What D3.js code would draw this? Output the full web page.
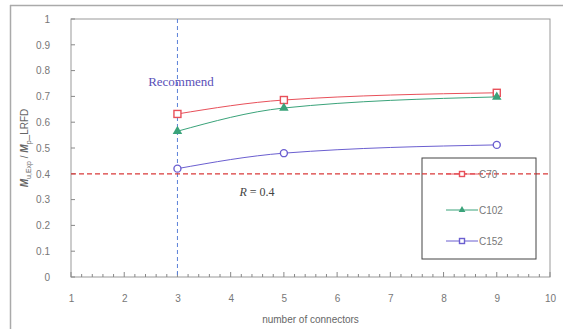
<!DOCTYPE html>
<html>
<head>
<meta charset="utf-8">
<script src="https://cdn.jsdelivr.net/npm/d3@7"></script>
<style>
  body { margin: 0; background: #fff; }
  svg { display: block; }
</style>
</head>
<body>
<svg id="chart" width="563" height="329"></svg>
<script>
// Connector counts tested and the resulting moment ratios
const connectors = [3, 5, 9];
const seriesNames = ["C70", "C102", "C152"];
const valuesC70 = [0.632, 0.686, 0.714];
const valuesC102 = [0.565, 0.655, 0.698];
const valuesC152 = [0.420, 0.480, 0.512];
const xTicks = [1, 2, 3, 4, 5, 6, 7, 8, 9, 10];
const yTicks = [0, 0.1, 0.2, 0.3, 0.4, 0.5, 0.6, 0.7, 0.8, 0.9, 1];
const ratioLimit = 0.4;
const recommendedCount = 3;

const seriesValues = [valuesC70, valuesC102, valuesC152];
const colors = ["#e8505a", "#3aa37a", "#6b5fd0"];
const symbols = ["squareHollow", "triangle", "circleHollow"];

const svg = d3.select("#chart");
const margin = { left: 71, top: 19, right: 13, bottom: 52 };
const W = 563, H = 329;
const sans = "Liberation Sans, Arial, sans-serif";
const serif = "Liberation Serif, Times New Roman, serif";

const x = d3.scaleLinear().domain([1, 10]).range([margin.left, W - margin.right]);
const y = d3.scaleLinear().domain([0, 1]).range([H - margin.bottom, margin.top]);

// outer frame (top and left edges)
svg.append("line").attr("x1", 10).attr("x2", W).attr("y1", 5.5).attr("y2", 5.5)
  .attr("stroke", "#aaa").attr("stroke-width", 1.5);
svg.append("line").attr("x1", 10.5).attr("x2", 10.5).attr("y1", 5).attr("y2", H)
  .attr("stroke", "#aaa").attr("stroke-width", 1.5);

// plot area border
svg.append("rect")
  .attr("x", x(1)).attr("y", y(1))
  .attr("width", x(10) - x(1)).attr("height", y(0) - y(1))
  .attr("fill", "none").attr("stroke", "#999").attr("stroke-width", 1);

// x axis: minor ticks every 0.2, major at each integer, pointing inward
const xAxis = d3.axisBottom(x).tickValues(xTicks).tickSize(0).tickPadding(18)
  .tickFormat(d3.format("d"));
const gx = svg.append("g").attr("transform", `translate(0,${y(0)})`).call(xAxis);
gx.select(".domain").remove();
gx.selectAll("text").attr("fill", "#777").style("font-family", sans).style("font-size", "10px");
const minorX = d3.range(1, 10.001, 0.2);
svg.append("g").selectAll("line").data(minorX).join("line")
  .attr("x1", d => x(d)).attr("x2", d => x(d))
  .attr("y1", y(0)).attr("y2", d => Math.abs(d - Math.round(d)) < 1e-6 ? y(0) - 5 : y(0) - 3)
  .attr("stroke", "#888").attr("stroke-width", 1);

// y axis: ticks pointing inward
const yAxis = d3.axisLeft(y).tickValues(yTicks).tickSize(0).tickPadding(21)
  .tickFormat(d => d === 0 || d === 1 ? d3.format("d")(d) : d3.format(".1f")(d));
const gy = svg.append("g").attr("transform", `translate(${x(1)},0)`).call(yAxis);
gy.select(".domain").remove();
gy.selectAll("text").attr("fill", "#777").style("font-family", sans).style("font-size", "10px");
svg.append("g").selectAll("line").data(yTicks).join("line")
  .attr("x1", x(1)).attr("x2", x(1) + 4)
  .attr("y1", d => y(d)).attr("y2", d => y(d))
  .attr("stroke", "#888").attr("stroke-width", 1);

// axis titles
svg.append("text")
  .attr("x", (x(1) + x(10)) / 2).attr("y", 323)
  .attr("text-anchor", "middle").attr("fill", "#666")
  .style("font-family", sans).style("font-size", "10px")
  .text("number of connectors");

const yTitle = svg.append("text")
  .attr("transform", `translate(28,${(y(0) + y(1)) / 2}) rotate(-90)`)
  .attr("text-anchor", "middle").attr("fill", "#666")
  .style("font-family", sans).style("font-size", "10px");
yTitle.append("tspan").attr("font-weight", "bold").attr("font-style", "italic").text("M");
yTitle.append("tspan").attr("dy", 3).style("font-size", "7px").text("u,Exp");
yTitle.append("tspan").attr("dy", -3).text(" / ");
yTitle.append("tspan").attr("font-weight", "bold").attr("font-style", "italic").text("M");
yTitle.append("tspan").attr("dy", 3).style("font-size", "7px").text("p");
yTitle.append("tspan").attr("dy", -3).text("_LRFD");

// recommended connector count (vertical dashed line)
svg.append("line")
  .attr("x1", x(recommendedCount)).attr("x2", x(recommendedCount))
  .attr("y1", y(1)).attr("y2", y(0))
  .attr("stroke", "#5b80d8").attr("stroke-width", 1).attr("stroke-dasharray", "4,3");
svg.append("text")
  .attr("x", 181).attr("y", 86).attr("text-anchor", "middle")
  .attr("fill", "#5a50b8")
  .style("font-family", serif).style("font-size", "13px")
  .text("Recommend");

// ratio limit (horizontal dashed line)
svg.append("line")
  .attr("x1", x(1)).attr("x2", x(10))
  .attr("y1", y(ratioLimit)).attr("y2", y(ratioLimit))
  .attr("stroke", "#d93a3a").attr("stroke-width", 1.3).attr("stroke-dasharray", "5,3");
const rLabel = svg.append("text")
  .attr("x", 257).attr("y", 196).attr("text-anchor", "middle")
  .attr("fill", "#444")
  .style("font-family", serif).style("font-size", "12px");
rLabel.append("tspan").attr("font-style", "italic").text("R");
rLabel.append("tspan").text(" = " + ratioLimit);

// series lines and markers
const line = d3.line().x(d => x(d[0])).y(d => y(d[1])).curve(d3.curveMonotoneX);

function drawMarker(g, type, color, cx, cy, s) {
  if (type === "squareHollow") {
    g.append("rect").attr("x", cx - s).attr("y", cy - s).attr("width", 2 * s).attr("height", 2 * s)
      .attr("fill", "#fff").attr("stroke", color).attr("stroke-width", 1.4);
  } else if (type === "triangle") {
    g.append("path")
      .attr("d", d3.symbol().type(d3.symbolTriangle).size(s * s * 3.2)())
      .attr("transform", `translate(${cx},${cy})`)
      .attr("fill", color);
  } else {
    g.append("circle").attr("cx", cx).attr("cy", cy).attr("r", s)
      .attr("fill", "#fff").attr("stroke", color).attr("stroke-width", 1.4);
  }
}

seriesValues.forEach((vals, i) => {
  const pts = connectors.map((c, j) => [c, vals[j]]);
  const g = svg.append("g");
  g.append("path").datum(pts).attr("d", line)
    .attr("fill", "none").attr("stroke", colors[i]).attr("stroke-width", 1);
  pts.forEach(p => drawMarker(g, symbols[i], colors[i], x(p[0]), y(p[1]), 3.5));
});

// legend
const lg = svg.append("g");
lg.append("rect").attr("x", 422).attr("y", 158).attr("width", 114).attr("height", 101)
  .attr("fill", "#fff").attr("stroke", "#444").attr("stroke-width", 1);
// the limit line passes through the legend box
lg.append("line").attr("x1", 422).attr("x2", 536).attr("y1", y(ratioLimit)).attr("y2", y(ratioLimit))
  .attr("stroke", "#d93a3a").attr("stroke-width", 1.3).attr("stroke-dasharray", "5,3");
const legendY = [174, 210, 241];
seriesNames.forEach((name, i) => {
  const ly = legendY[i];
  lg.append("line").attr("x1", 446).attr("x2", 478).attr("y1", ly).attr("y2", ly)
    .attr("stroke", colors[i]).attr("stroke-width", 1);
  drawMarker(lg, i === 2 ? "squareHollow" : symbols[i], colors[i], 462, ly, 2.5);
  lg.append("text").attr("x", 479).attr("y", ly + 3.5)
    .attr("fill", "#777")
    .style("font-family", sans).style("font-size", "10px")
    .text(name);
});
</script>
</body>
</html>
